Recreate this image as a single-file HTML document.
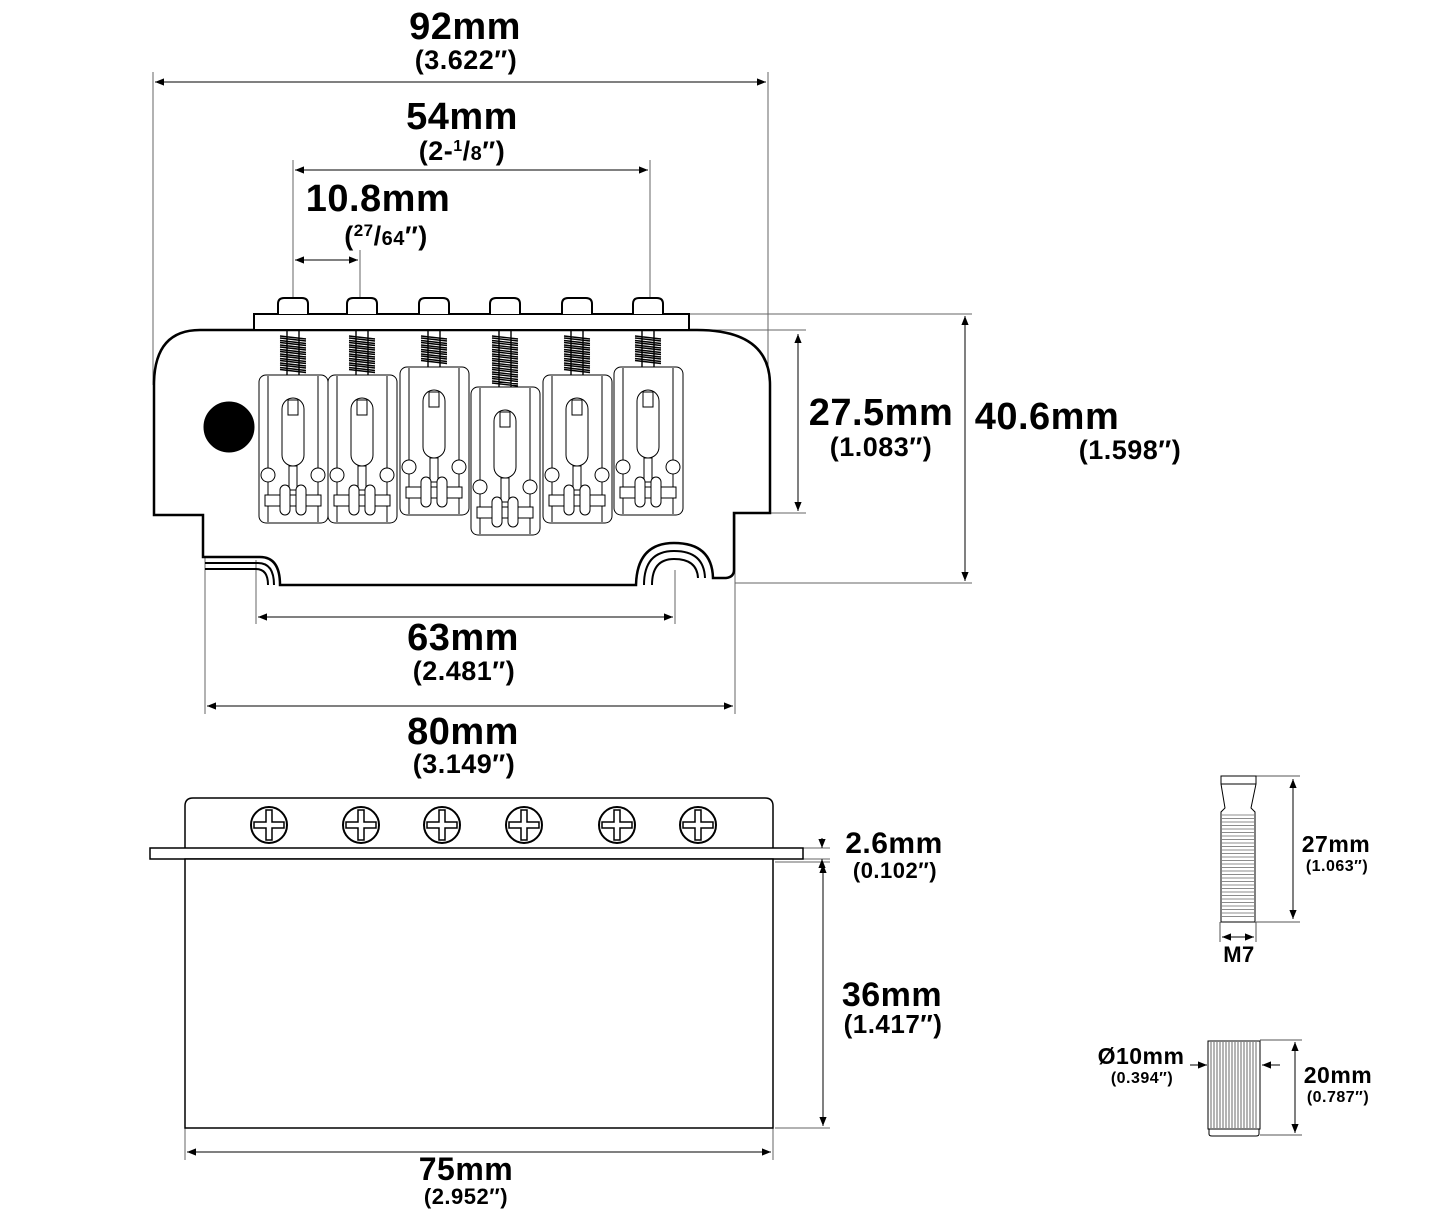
<!DOCTYPE html>
<html><head><meta charset="utf-8"><style>
html,body{margin:0;padding:0;background:#fff}
svg{display:block}
text{font-family:"Liberation Sans",sans-serif;font-weight:bold;fill:#000;text-anchor:middle;letter-spacing:0.5px}
</style></head><body>
<svg id="s" width="1445" height="1217" viewBox="0 0 1445 1217" xmlns="http://www.w3.org/2000/svg">
<defs>
<marker id="a" viewBox="0 0 10 10" refX="10" refY="5" markerWidth="9" markerHeight="9" orient="auto-start-reverse" markerUnits="userSpaceOnUse"><path d="M0,1 L10,5 L0,9 z" fill="#000"/></marker>
</defs>
<g id="dims" stroke="#000" stroke-width="1" fill="none">
<path stroke="#666" d="M153,72V385 M768,72V385 M293,160V298 M650,160V298 M360,250V298 M697,330H806 M770,513H806 M690,314H972 M735,583H972 M256,560V624 M675,570V624 M205,557V714 M735,513V714 M773,848H830 M803,859H830 M775,862H830 M775,1128H830 M185,1128V1160 M773,1128V1160"/>
<line x1="155" y1="82" x2="766" y2="82" marker-start="url(#a)" marker-end="url(#a)"/>
<line x1="295" y1="170" x2="648" y2="170" marker-start="url(#a)" marker-end="url(#a)"/>
<line x1="295" y1="260" x2="358" y2="260" marker-start="url(#a)" marker-end="url(#a)"/>
<line x1="798" y1="334" x2="798" y2="511" marker-start="url(#a)" marker-end="url(#a)"/>
<line x1="965" y1="316" x2="965" y2="581" marker-start="url(#a)" marker-end="url(#a)"/>
<line x1="258" y1="617" x2="673" y2="617" marker-start="url(#a)" marker-end="url(#a)"/>
<line x1="207" y1="706" x2="733" y2="706" marker-start="url(#a)" marker-end="url(#a)"/>
<line x1="823" y1="864" x2="823" y2="1126" marker-start="url(#a)" marker-end="url(#a)"/>
<line x1="187" y1="1152" x2="771" y2="1152" marker-start="url(#a)" marker-end="url(#a)"/>
<line x1="822" y1="838" x2="822" y2="848" marker-end="url(#a)"/>
<line x1="822" y1="869" x2="822" y2="859" marker-end="url(#a)"/>
<path stroke="#555" d="M1256,776H1300 M1256,922H1300 M1220,922V942 M1256,922V942 M1260,1040H1302 M1260,1135H1302"/>
<line x1="1293" y1="779" x2="1293" y2="919" marker-start="url(#a)" marker-end="url(#a)"/>
<line x1="1222" y1="937" x2="1254" y2="937" marker-start="url(#a)" marker-end="url(#a)"/>
<line x1="1295" y1="1042" x2="1295" y2="1133" marker-start="url(#a)" marker-end="url(#a)"/>
<line x1="1190" y1="1065" x2="1207" y2="1065" marker-end="url(#a)"/>
<line x1="1280" y1="1065" x2="1262" y2="1065" marker-end="url(#a)"/>
</g>

<g id="body" fill="none" stroke="#000">
<path stroke-width="2.5" fill="#fff" d="M200,330 H697 Q770,330 770,385 V513 H734 V570 Q734,577 726,578 H713 Q712,543 674,543 Q637,543 636,585 H280 Q280,557 260,557 H203 V515 H154 V385 Q154,330 200,330 Z"/>
<path stroke-width="2" d="M205,563 H258 Q274,563 274,585 M205,569 H256 Q268,569 268,585 M644,585 Q644,551 674,551 Q704,551 705,578 M652,585 Q652,559 674,559 Q697,559 698,578"/>
<rect x="254" y="314" width="435" height="16" fill="#fff" stroke-width="2"/>
<ellipse cx="229" cy="427" rx="25" ry="25" fill="#000"/>
<g id="sad" stroke-width="1"></g>
</g>

<g fill="#fff" stroke="#000" stroke-width="1.5">
<path d="M185,848 V806 Q185,798 193,798 H765 Q773,798 773,806 V848"/>
<rect x="150" y="848" width="653" height="11"/>
<rect x="185" y="859" width="588" height="269"/>
<g id="scr"></g>
</g>

<g fill="#fff" stroke="#000" stroke-width="1">
<path d="M1221,776 H1256 V784 L1251,808 L1255,812 V922 H1221 V812 L1225,808 L1221,784 Z"/>
<line x1="1221" y1="784" x2="1256" y2="784"/>
<g id="thr" stroke="#666" stroke-width="0.8"></g>
<rect x="1208" y="1041" width="52" height="88"/>
<path d="M1209,1129 H1259 V1134 Q1259,1136 1256,1136 H1212 Q1209,1136 1209,1134 Z"/>
<g id="knurl" stroke="#444" stroke-width="0.8"></g>
</g>

<text x="465" y="39" font-size="38">92mm</text>
<text x="466" y="69" font-size="27">(3.622″)</text>
<text x="462" y="129" font-size="38">54mm</text>
<text x="462" y="160" font-size="27">(2-<tspan font-size="16" dy="-9">1</tspan><tspan dy="9">/</tspan><tspan font-size="20">8</tspan>″)</text>
<text x="378" y="211" font-size="38">10.8mm</text>
<text x="386" y="245" font-size="27">(<tspan font-size="17" dy="-9">27</tspan><tspan dy="9">/</tspan><tspan font-size="20">64</tspan>″)</text>
<text x="881" y="425" font-size="38">27.5mm</text>
<text x="881" y="456" font-size="27">(1.083″)</text>
<text x="1047" y="429" font-size="38">40.6mm</text>
<text x="1130" y="459" font-size="27">(1.598″)</text>
<text x="463" y="650" font-size="38">63mm</text>
<text x="464" y="680" font-size="27">(2.481″)</text>
<text x="463" y="744" font-size="38">80mm</text>
<text x="464" y="773" font-size="27">(3.149″)</text>
<text x="894" y="853" font-size="30">2.6mm</text>
<text x="895" y="878" font-size="22">(0.102″)</text>
<text x="892" y="1006" font-size="34">36mm</text>
<text x="893" y="1033" font-size="26">(1.417″)</text>
<text x="466" y="1180" font-size="32">75mm</text>
<text x="466" y="1204" font-size="22">(2.952″)</text>
<text x="1336" y="852" font-size="23">27mm</text>
<text x="1337" y="871" font-size="16">(1.063″)</text>
<text x="1239" y="962" font-size="22">M7</text>
<text x="1141" y="1064" font-size="23">Ø10mm</text>
<text x="1142" y="1083" font-size="16">(0.394″)</text>
<text x="1338" y="1083" font-size="23">20mm</text>
<text x="1338" y="1102" font-size="16">(0.787″)</text>
</svg>
<script>
(function(){
var NS="http://www.w3.org/2000/svg";
function el(p,t,a){var e=document.createElementNS(NS,t);for(var k in a)e.setAttribute(k,a[k]);p.appendChild(e);return e;}
var sad=document.getElementById('sad');
var body=document.getElementById('body');
var cx=[293,362,434,505,577,648],tps=[375,375,367,387,375,367];
for(var i=0;i<6;i++){
 var x=cx[i],t=tps[i];
 el(body,'path',{d:'M'+(x-15)+',314 V304 Q'+(x-15)+',298 '+(x-9)+',298 H'+(x+9)+' Q'+(x+15)+',298 '+(x+15)+',304 V314','stroke-width':'2',fill:'#fff'});
 var d='M'+(x-6)+',331 V'+t+' M'+(x+6)+',331 V'+t;var n=Math.floor((t-336)/4.5);
 for(var j=0;j<n;j++){var y=336+j*4.5;d+=' M'+(x-13)+','+y+' L'+(x+13)+','+(y+3)+' M'+(x-13)+','+(y+2)+' L'+(x+13)+','+(y+5);}
 el(sad,'path',{d:d,'stroke-width':'1.4'});
 el(sad,'rect',{x:x-34,y:t,width:69,height:148,rx:7,fill:'#fff'});
 el(sad,'path',{d:'M'+(x-25)+','+(t+1)+' V'+(t+147)+' M'+(x+25)+','+(t+1)+' V'+(t+147)});
 el(sad,'rect',{x:x-11,y:t+23,width:22,height:68,rx:11,fill:'#fff'});
 el(sad,'rect',{x:x-5,y:t+25,width:10,height:15});
 el(sad,'rect',{x:x-4,y:t+91,width:8,height:24,fill:'#fff'});
 el(sad,'circle',{cx:x-25,cy:t+100,r:7,fill:'#fff'});
 el(sad,'circle',{cx:x+25,cy:t+100,r:7,fill:'#fff'});
 el(sad,'rect',{x:x-28,y:t+120,width:56,height:11,fill:'#fff'});
 el(sad,'rect',{x:x-13,y:t+110,width:10,height:30,rx:5,fill:'#fff'});
 el(sad,'rect',{x:x+3,y:t+110,width:10,height:30,rx:5,fill:'#fff'});
}
var scr=document.getElementById('scr');
[269,361,442,524,617,698].forEach(function(x){
 el(scr,'circle',{cx:x,cy:825,r:18,'stroke-width':'2'});
 el(scr,'path',{d:'M'+(x-3)+',810 H'+(x+3)+' V822 H'+(x+15)+' V828 H'+(x+3)+' V840 H'+(x-3)+' V828 H'+(x-15)+' V822 H'+(x-3)+' Z','stroke-width':'1.5'});
});
var thr=document.getElementById('thr');
for(var y=815;y<920;y+=3.5)el(thr,'line',{x1:1222,y1:y,x2:1254,y2:y});
var kn=document.getElementById('knurl');
for(var x=1211;x<1259;x+=3)el(kn,'line',{x1:x,y1:1042,x2:x,y2:1128});
})();
</script>
</body></html>
